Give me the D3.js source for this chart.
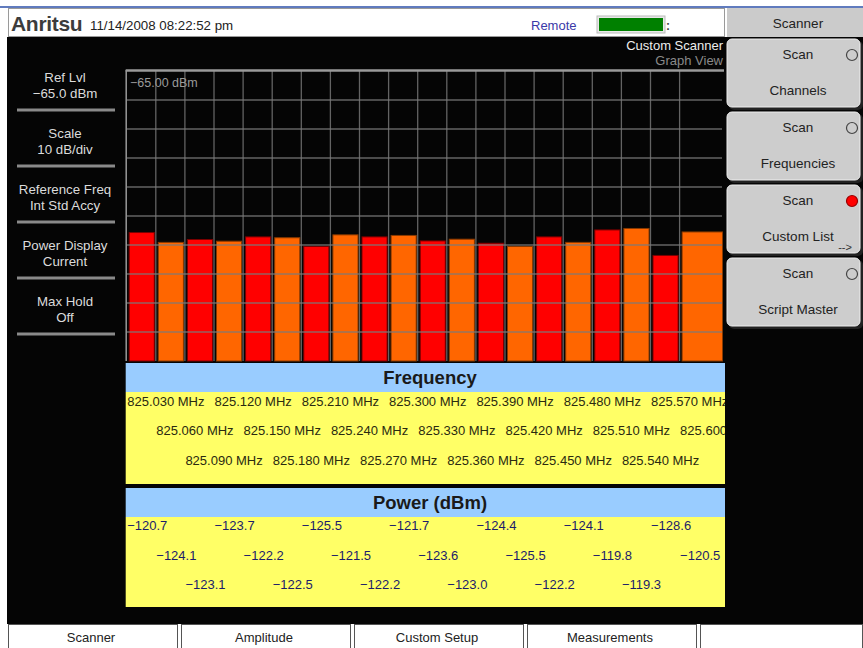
<!DOCTYPE html>
<html><head><meta charset="utf-8">
<script src="https://cdn.jsdelivr.net/npm/d3@7"></script>
<style>body{margin:0;background:#fff}svg{display:block;font-family:"Liberation Sans",Arial,sans-serif}</style>
</head><body><svg id="c" width="863" height="648"></svg>
<script>
// ---- data ----
const frequencies = ["825.030 MHz","825.060 MHz","825.090 MHz","825.120 MHz","825.150 MHz","825.180 MHz","825.210 MHz","825.240 MHz","825.270 MHz","825.300 MHz","825.330 MHz","825.360 MHz","825.390 MHz","825.420 MHz","825.450 MHz","825.480 MHz","825.510 MHz","825.540 MHz","825.570 MHz","825.600 MHz"];
const powers = [-120.7,-124.1,-123.1,-123.7,-122.2,-122.5,-125.5,-121.5,-122.2,-121.7,-123.6,-123.0,-124.4,-125.5,-122.2,-124.1,-119.8,-119.3,-128.6,-120.5];
const refLevel = -65;
const dbPerDiv = 10;
const divisions = 10;
const leftItems = [["Ref Lvl","\u221265.0 dBm"],["Scale","10 dB/div"],["Reference Freq","Int Std Accy"],["Power Display","Current"],["Max Hold","Off"]];
const softkeys = [["Scan","Channels",false],["Scan","Frequencies",false],["Scan","Custom List",true],["Scan","Script Master",false]];
const tabs = ["Scanner","Amplitude","Custom Setup","Measurements",""];
const barColors = ["#ff0000","#ff6600"];
const barStrokes = ["#7a0000","#8a3a00"];

const svg = d3.select("#c");
const fmt = d3.format(".1f");

// page background
svg.append("rect").attr("width",863).attr("height",648).attr("fill","#fff");
svg.append("rect").attr("x",7).attr("y",37).attr("width",856).attr("height",587).attr("fill","#050505");
svg.append("line").attr("x1",0).attr("x2",863).attr("y1",7).attr("y2",7).attr("stroke","#2b4fa8").attr("stroke-width",1.5);

// header
svg.append("rect").attr("x",8.5).attr("y",8.5).attr("width",716).attr("height",28).attr("fill","#fff").attr("stroke","#9a9a9a");
svg.append("text").attr("x",11).attr("y",31).attr("font-size",21).attr("font-weight","bold").attr("fill","#3c3c3c").attr("letter-spacing",-0.3).text("Anritsu");
svg.append("text").attr("x",90).attr("y",30).attr("font-size",13.3).attr("fill","#222").text("11/14/2008 08:22:52 pm");
svg.append("text").attr("x",531).attr("y",29.5).attr("font-size",13).attr("fill","#3a3aa8").text("Remote");
svg.append("rect").attr("x",597).attr("y",16).attr("width",68).attr("height",17).attr("fill","#e8e8e8").attr("stroke","#bbb");
svg.append("rect").attr("x",599).attr("y",18).attr("width",64).attr("height",13).attr("fill","#008000");
svg.append("text").attr("x",666).attr("y",30).attr("font-size",12).attr("font-weight","bold").attr("fill","#444").text(":");

// right title + softkeys
svg.append("rect").attr("x",727).attr("y",8).attr("width",136).attr("height",29).attr("fill","#cbcbcb");
svg.append("text").attr("x",798).attr("y",27.5).attr("text-anchor","middle").attr("font-size",13.5).attr("fill","#222").text("Scanner");
softkeys.forEach((k,i)=>{
  const y0 = 39 + i*73;
  svg.append("rect").attr("x",729).attr("y",y0+2).attr("width",134).attr("height",69).attr("rx",5).attr("fill","#222");
  svg.append("rect").attr("x",727).attr("y",y0).attr("width",133).attr("height",68).attr("rx",5).attr("fill","#cdcdcd").attr("stroke","#eee").attr("stroke-width",1);
  svg.append("text").attr("x",798).attr("y",y0+20).attr("text-anchor","middle").attr("font-size",13.5).attr("fill","#222").text(k[0]);
  svg.append("text").attr("x",798).attr("y",y0+56).attr("text-anchor","middle").attr("font-size",13.5).attr("fill","#222").text(k[1]);
  svg.append("circle").attr("cx",852).attr("cy",y0+16).attr("r",5.5).attr("fill",k[2]?"#ff0000":"none").attr("stroke",k[2]?"#900":"#444").attr("stroke-width",1.2);
  if(k[2]) svg.append("text").attr("x",845).attr("y",y0+66).attr("text-anchor","middle").attr("font-size",11).attr("fill","#333").text("-->");
});
svg.append("text").attr("x",723).attr("y",50).attr("text-anchor","end").attr("font-size",13).attr("fill","#eee").text("Custom Scanner");
svg.append("text").attr("x",723).attr("y",65).attr("text-anchor","end").attr("font-size",13).attr("fill","#8a8a8a").text("Graph View");

// left panel
leftItems.forEach((d,i)=>{
  const y0 = 56*i;
  svg.append("text").attr("x",65).attr("y",82+y0).attr("text-anchor","middle").attr("font-size",13.3).attr("fill","#dcdcdc").text(d[0]);
  svg.append("text").attr("x",65).attr("y",98+y0).attr("text-anchor","middle").attr("font-size",13.3).attr("fill","#dcdcdc").text(d[1]);
  svg.append("line").attr("x1",17).attr("x2",115).attr("y1",110+y0).attr("y2",110+y0).attr("stroke","#8a8a8a").attr("stroke-width",3);
});

// plot
const plotL = 126.7, plotR = 725, plotT = 71, plotB = 361;
const x = d3.scaleBand().domain(frequencies).range([plotL, plotL + 29.1*frequencies.length]);
const y = d3.scaleLinear().domain([refLevel - dbPerDiv*divisions, refLevel]).range([plotB, plotT]);
const bw = x.bandwidth();

svg.append("g").selectAll("rect").data(powers).join("rect")
  .attr("x",(d,i)=>x(frequencies[i])+2.5)
  .attr("width",(d,i)=> i===frequencies.length-1 ? plotR - x(frequencies[i]) - 5 : bw-4)
  .attr("y",d=>y(d)).attr("height",d=>y(refLevel - dbPerDiv*divisions)-y(d))
  .attr("fill",(d,i)=>barColors[i%2]).attr("stroke",(d,i)=>barStrokes[i%2]).attr("stroke-width",1);

const grid = svg.append("g").attr("stroke","#7a7a7a").attr("stroke-opacity",0.8).attr("stroke-width",1.3);
d3.range(1,divisions).forEach(k=>{
  const v = refLevel - dbPerDiv*k;
  grid.append("line").attr("x1",plotL).attr("x2",plotR-3).attr("y1",y(v)).attr("y2",y(v));
});
frequencies.slice(1).forEach(f=>{
  grid.append("line").attr("x1",x(f)).attr("x2",x(f)).attr("y1",plotT).attr("y2",plotB);
});
svg.append("line").attr("x1",plotL-1).attr("x2",plotR-1).attr("y1",plotT-0.5).attr("y2",plotT-0.5).attr("stroke","#9a9a9a").attr("stroke-width",2.5);
svg.append("line").attr("x1",plotL-0.5).attr("x2",plotL-0.5).attr("y1",plotT-1).attr("y2",plotB).attr("stroke","#9a9a9a").attr("stroke-width",1.5);
svg.append("text").attr("x",130).attr("y",87).attr("font-size",12.5).attr("fill","#9a9a9a").text(fmt(refLevel).replace(/(\d+)\.(\d)/,"$1.$20")+" dBm");

// tables
const clip = svg.append("defs").append("clipPath").attr("id","tc");
clip.append("rect").attr("x",plotL-1).attr("y",360).attr("width",plotR-plotL+1).attr("height",260);

function table(top, title, labels, color, rowsY, yTop, yBot){
  svg.append("rect").attr("x",plotL-1).attr("y",top).attr("width",plotR-plotL+1).attr("height",yTop-top).attr("fill","#99ccff");
  svg.append("rect").attr("x",plotL-1).attr("y",yTop).attr("width",plotR-plotL+1).attr("height",yBot-yTop).attr("fill","#ffff66");
  svg.append("text").attr("x",430).attr("y",top+(yTop-top)/2+6.5).attr("text-anchor","middle").attr("font-size",18.5).attr("font-weight","bold").attr("fill","#1a1a1a").attr("stroke","#99ccff").attr("stroke-width",0.6).attr("paint-order","stroke").text(title);
  svg.append("g").attr("clip-path","url(#tc)").selectAll("text").data(labels).join("text")
    .attr("x",(d,i)=>x(frequencies[i])+0.5)
    .attr("y",(d,i)=>rowsY[i%3]+4.5)
    .attr("font-size",13).attr("fill",color).text(d=>d);
}
table(363,"Frequency",frequencies,"#2a2a10",[401,430.5,460],392,484);
table(488,"Power (dBm)",powers.map(fmt),"#1c1c6a",[525.5,555.5,584.5],517,607);

// bottom tabs
const tabX = [8,181,354,527,700], tabW = [170,170,170,170,163];
tabs.forEach((t,i)=>{
  svg.append("rect").attr("x",tabX[i]+0.5).attr("y",624.5).attr("width",tabW[i]-1).attr("height",24).attr("fill","#fff").attr("stroke","#555");
  svg.append("text").attr("x",tabX[i]+tabW[i]/2 - 2).attr("y",642).attr("text-anchor","middle").attr("font-size",13).attr("fill","#222").text(t);
});
</script></body></html>
